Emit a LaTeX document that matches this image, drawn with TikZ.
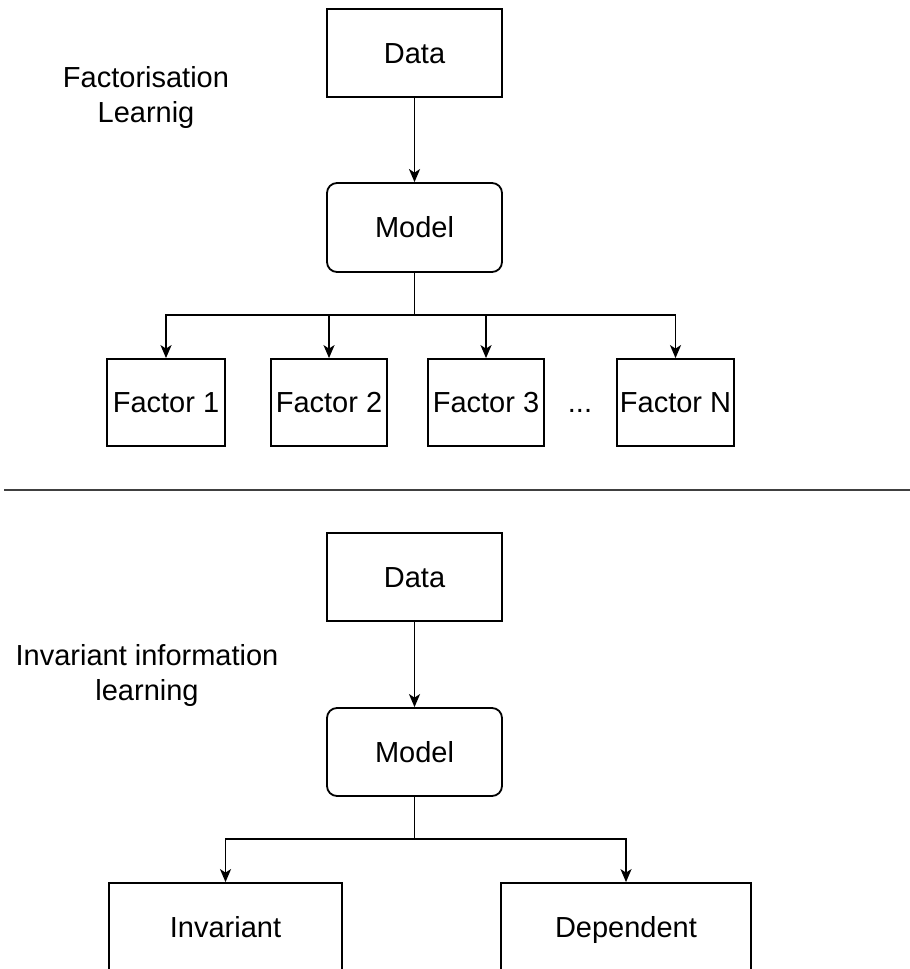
\documentclass[tikz,border=0pt]{standalone}
\usepackage{fontspec}
\setmainfont{Liberation Sans}
\usetikzlibrary{arrows.meta}
\begin{document}
\begin{tikzpicture}[x=1pt,y=-1pt,
  every node/.style={font=\fontsize{29}{35}\selectfont, text=black},
  label text/.style={text height=20.8pt, text depth=0pt},
  box/.style={draw=black, line width=1.8pt, rectangle, inner sep=0pt, label text},
  rbox/.style={box, rounded corners=10pt},
  link/.style={draw=black, line width=1.9pt},
  arr/.style={link, -{Stealth[length=13pt,width=11pt,inset=3.5pt]}},
  caption/.style={align=center}]
\useasboundingbox (0,0) rectangle (910,969);

% --- upper diagram: factorisation learning
\node[box, minimum width=175pt, minimum height=88pt] (data1) at (414.5,53) {Data};
\node[rbox, minimum width=175pt, minimum height=89pt] (model1) at (414.5,227.5) {Model};
\node[caption] (lab1) at (146,98) {Factorisation\\Learnig};

\node[box, minimum width=118pt, minimum height=87pt] (f1) at (166,402.5) {Factor 1};
\node[box, minimum width=116pt, minimum height=87pt] (f2) at (329,402.5) {Factor 2};
\node[box, minimum width=116pt, minimum height=87pt] (f3) at (486,402.5) {Factor 3};
\node[box, minimum width=117pt, minimum height=87pt] (fn) at (675.5,402.5) {Factor N};
\node[label text, inner sep=0pt] (dots) at (580,402.5) {...};

\coordinate (split1) at (414.5,315);
\draw[arr] (data1) -- (model1);
\draw[link] (model1.south) -- (split1);
\draw[arr] (split1) -| (f1.north);
\draw[arr] (split1) -| (f2.north);
\draw[arr] (split1) -| (f3.north);
\draw[arr] (split1) -| (fn.north);

% --- separator
\coordinate (sepL) at (4,490);
\coordinate (sepR) at (910,490);
\draw[draw=black!75, line width=2pt] (sepL) -- (sepR);

% --- lower diagram: invariant information learning
\node[box, minimum width=175pt, minimum height=88pt] (data2) at (414.5,577) {Data};
\node[rbox, minimum width=175pt, minimum height=88pt] (model2) at (414.5,752) {Model};
\node[caption] (lab2) at (147,675) {Invariant information\\learning};

\node[box, minimum width=233pt, minimum height=88pt] (inv) at (225.5,927) {Invariant};
\node[box, minimum width=250pt, minimum height=88pt] (dep) at (626,927) {Dependent};

\coordinate (split2) at (414.5,839);
\draw[arr] (data2) -- (model2);
\draw[link] (model2.south) -- (split2);
\draw[arr] (split2) -| (inv.north);
\draw[arr] (split2) -| (dep.north);
\end{tikzpicture}
\end{document}
